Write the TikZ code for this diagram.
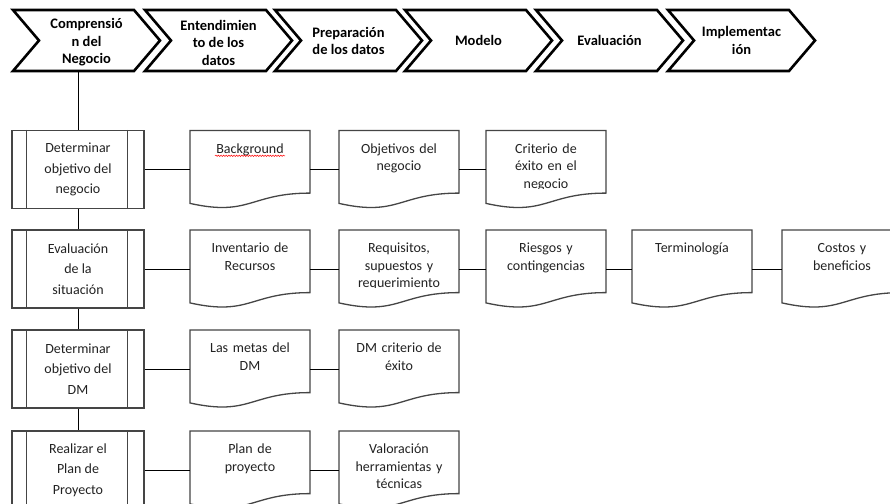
\documentclass[tikz,border=0pt]{standalone}
\usepackage{fontspec}
\setmainfont{Carlito}
\usetikzlibrary{calc,decorations.pathmorphing}
\definecolor{edge}{HTML}{454545}
\definecolor{txt}{HTML}{222222}
\tikzset{
  chevline/.style={line width=2.6pt, black, line join=miter},
  chevtext/.style={inner sep=0pt, minimum width=147pt, minimum height=61pt, align=center,
    font=\fontsize{14.5}{17.5}\selectfont\bfseries},
  procbox/.style={draw=edge, line width=1.3pt, inner sep=0pt, minimum width=132pt,
    minimum height=78pt, align=center, text=txt, font=\fontsize{14}{20.5}\selectfont},
  docarea/.style={inner sep=0pt, minimum width=120pt, minimum height=78pt},
  docline/.style={draw=edge, line width=1.3pt, line join=miter},
  doctext/.style={inner sep=0pt, text width=118pt, align=center, anchor=base, text=txt,
    font=\fontsize{14}{17.5}\selectfont},
  link/.style={black, line width=1pt},
  spellmark/.style={red, line width=0.5pt, decorate,
    decoration={snake, amplitude=0.7pt, segment length=2.6pt}},
}
\newcommand\chevstep[4]{%
  \draw[chevline] (#2,10) -- (#2+121,10) -- (#2+147,40.5) -- (#2+121,71) -- (#2,71) -- (#2+26,40.5) -- cycle;
  \node[chevtext] (#1) at (#2+73.5,40.5) {};
  \node[align=center, inner sep=0pt, font=\fontsize{14.5}{17.5}\selectfont\bfseries] (#1t) at (#2+73.5,#3) {#4};
}
\newcommand\procstep[3]{%
  \node[procbox] (#1) at (78,#2+39) {#3};
  \draw[docline] ([xshift=15pt]#1.north west) -- ([xshift=15pt]#1.south west);
  \draw[docline] ([xshift=-17pt]#1.north east) -- ([xshift=-17pt]#1.south east);
}
\newcommand\docstep[4]{%
  \node[docarea] (#1) at (#2+60,#3+39) {};
  \draw[docline] (#2,#3) -- (#2+120,#3) -- (#2+120,#3+62.6)
    .. controls (#2+60,#3+62.6) and (#2+60,#3+86.3) .. (#2,#3+72.9) -- cycle;
  \begin{scope}
    \clip (#2,#3) rectangle (#2+120,#3+57.5);
    \node[doctext] (#1t) at (#2+60,#3+22.5) {#4};
  \end{scope}
}
\begin{document}
\begin{tikzpicture}[x=1pt,y=-1pt]
\useasboundingbox (0,0) rectangle (890,503);
\fill[white] (0,0) rectangle (890,503);
\clip (0,0) rectangle (890,503);

% phase chevrons
\chevstep{c1}{13}{42.5}{Comprensió\\n del\\Negocio}
\chevstep{c2}{145}{42.5}{Entendimien\\to de los\\datos}
\chevstep{c3}{275}{41}{Preparación\\de los datos}
\chevstep{c4}{405}{40.5}{Modelo}
\chevstep{c5}{536}{40.5}{Evaluación}
\chevstep{c6}{668}{40.5}{Implementac\\ión}

% process boxes
\procstep{p1}{130.5}{Determinar\\objetivo del\\negocio}
\procstep{p2}{230}{Evaluación\\de la\\situación}
\procstep{p3}{330}{Determinar\\objetivo del\\DM}
\procstep{p4}{431}{Realizar el\\Plan de\\Proyecto}

% documents
\docstep{d11}{190}{130.5}{Background}
\docstep{d12}{339}{130.5}{Objetivos del\\negocio}
\docstep{d13}{486}{130.5}{Criterio de\\éxito en el\\negocio}

\docstep{d21}{190}{230}{Inventario de\\Recursos}
\docstep{d22}{339}{230}{Requisitos,\\supuestos y\\requerimiento}
\docstep{d23}{486}{230}{Riesgos y\\contingencias}
\docstep{d24}{632}{230}{Terminología}
\docstep{d25}{782}{230}{Costos y\\beneficios}

\docstep{d31}{190}{330}{Las metas del\\DM}
\docstep{d32}{339}{330}{DM criterio de\\éxito}

\docstep{d41}{190}{431}{Plan de\\proyecto}
\docstep{d42}{339}{431}{Valoración\\herramientas y\\técnicas}

% spell-check mark under Background
\draw[spellmark] ($(d11t.base)+(-35,2.8)$) -- ($(d11t.base)+(35,2.8)$);

% connectors
\draw[link] (p1.north |- c1.south) -- (p1.north);
\draw[link] (p1.south) -- (p2.north);
\draw[link] (p2.south) -- (p3.north);
\draw[link] (p3.south) -- (p4.north);

\draw[link] (p1.east) -- (d11.west);
\draw[link] (d11.east) -- (d12.west);
\draw[link] (d12.east) -- (d13.west);

\draw[link] (p2.east) -- (d21.west);
\draw[link] (d21.east) -- (d22.west);
\draw[link] (d22.east) -- (d23.west);
\draw[link] (d23.east) -- (d24.west);
\draw[link] (d24.east) -- (d25.west);

\draw[link] (p3.east) -- (d31.west);
\draw[link] (d31.east) -- (d32.west);

\draw[link] (p4.east) -- (d41.west);
\draw[link] (d41.east) -- (d42.west);
\end{tikzpicture}
\end{document}
